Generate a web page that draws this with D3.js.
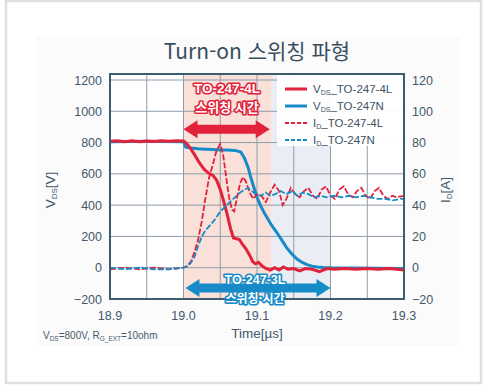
<!DOCTYPE html>
<html lang="ko">
<head>
<meta charset="utf-8">
<title>Turn-on 스위칭 파형</title>
<script src="https://d3js.org/d3.v7.min.js"></script>
<style>
body { margin: 0; background: #fff; }
svg text { font-family: "Liberation Sans", Arial, sans-serif; }
svg text.kr { font-family: "Noto Sans CJK KR", "Noto Sans", sans-serif; }
.grid line { stroke: #8e9ca9; stroke-width: 1; }
.tick-lbl { fill: #42596b; font-size: 12.5px; }
</style>
</head>
<body>
<div id="chart"></div>
<script>
// axis ticks
var timeTicks = [18.9, 19.0, 19.1, 19.2, 19.3];
var timeGrid = [18.95, 19.0, 19.05, 19.1, 19.15, 19.2, 19.25];
var vdsTicks = [-200, 0, 200, 400, 600, 800, 1000, 1200];
var idTicks = [-20, 0, 20, 40, 60, 80, 100, 120];

// switching-time spans (µs)
var span4L = [19.0, 19.12];
var span3L = [19.0, 19.2];

// V_DS, TO-247-4L  [time µs, V]
var vds4L = [[18.900, 808], [18.910, 812], [18.920, 805], [18.930, 811], [18.940, 806], [18.950, 810],
  [18.960, 807], [18.970, 812], [18.980, 808], [18.990, 812], [19.000, 810], [19.004, 795], [19.010, 760],
  [19.016, 715], [19.022, 668], [19.028, 630], [19.034, 605], [19.040, 590], [19.045, 560], [19.050, 500],
  [19.055, 420], [19.060, 330], [19.064, 250], [19.068, 190], [19.072, 185], [19.076, 180], [19.080, 150],
  [19.085, 120], [19.090, 80], [19.094, 40], [19.098, 25], [19.102, 35], [19.106, 15], [19.112, -5],
  [19.118, -15], [19.124, 0], [19.130, -15], [19.136, 5], [19.142, -10], [19.150, -5], [19.158, -20],
  [19.166, -5], [19.175, -10], [19.185, -25], [19.195, -5], [19.205, -10], [19.220, -5], [19.235, -10],
  [19.250, -5], [19.265, -10], [19.280, -5], [19.300, -15]];

// V_DS, TO-247N
var vdsN = [[18.900, 806], [18.950, 808], [19.000, 805], [19.003, 770], [19.010, 765], [19.020, 760],
  [19.030, 757], [19.040, 755], [19.050, 752], [19.060, 752], [19.070, 750], [19.078, 740], [19.083, 700],
  [19.088, 640], [19.092, 570], [19.096, 510], [19.100, 450], [19.105, 395], [19.110, 350], [19.115, 310],
  [19.120, 270], [19.127, 225], [19.134, 175], [19.140, 130], [19.147, 90], [19.154, 57], [19.161, 35],
  [19.168, 20], [19.175, 10], [19.182, 5], [19.190, 2], [19.200, 0], [19.300, -5]];

// I_D, TO-247-4L  [time µs, A]
var id4L = [[18.90, -1], [18.92, 0], [18.94, -1], [18.96, 0], [18.98, -1], [19.00, 0], [19.005, 1],
  [19.010, 4], [19.015, 10], [19.020, 18], [19.025, 30], [19.030, 45], [19.035, 58], [19.040, 66],
  [19.045, 75], [19.050, 79], [19.054, 72], [19.058, 58], [19.062, 45], [19.066, 37], [19.069, 36],
  [19.073, 45], [19.077, 54], [19.081, 58], [19.085, 55], [19.090, 48], [19.095, 44], [19.100, 47],
  [19.106, 46], [19.112, 42], [19.118, 48], [19.124, 53], [19.130, 49], [19.135, 40], [19.140, 44],
  [19.146, 51], [19.152, 47], [19.158, 45], [19.164, 49], [19.170, 51], [19.176, 46], [19.182, 44],
  [19.188, 50], [19.194, 52], [19.200, 46], [19.206, 44], [19.212, 50], [19.218, 52], [19.224, 47],
  [19.230, 45], [19.236, 49], [19.242, 51], [19.248, 46], [19.254, 44], [19.260, 49], [19.266, 51],
  [19.272, 46], [19.278, 44], [19.284, 46], [19.290, 45], [19.300, 46]];

// I_D, TO-247N
var idN = [[18.90, 0], [18.92, -1], [18.94, 0], [18.96, -1], [18.98, -1], [19.00, 0], [19.005, 1],
  [19.010, 3], [19.015, 7], [19.020, 14], [19.025, 20], [19.030, 24], [19.036, 27], [19.043, 31],
  [19.050, 36], [19.057, 39], [19.063, 42], [19.070, 45], [19.077, 48], [19.083, 50], [19.088, 51],
  [19.093, 49], [19.098, 47], [19.105, 46], [19.112, 48], [19.118, 46], [19.125, 47], [19.132, 49],
  [19.140, 47], [19.148, 49], [19.155, 46], [19.162, 48], [19.170, 47], [19.178, 45], [19.186, 46],
  [19.195, 45], [19.205, 46], [19.215, 45], [19.225, 46], [19.235, 45], [19.245, 46], [19.255, 45],
  [19.265, 44], [19.275, 44], [19.285, 43], [19.295, 44], [19.300, 44]];

var legendNames = [["V", "DS", "_TO-247-4L"], ["V", "DS", "_TO-247N"], ["I", "D", "_TO-247-4L"], ["I", "D", "_TO-247N"]];

var w = 483, h = 385;
var red = "#e1223a", blue = "#178bc8";

var svg = d3.select("#chart").append("svg").attr("width", w).attr("height", h);

// card frame
svg.append("rect").attr("x", 6).attr("y", 1).attr("width", 475).attr("height", 382)
  .attr("fill", "#fff").attr("stroke", "#e2e0db").attr("stroke-width", 2.5);
svg.append("rect").attr("x", 36).attr("y", 37).attr("width", 424).attr("height", 309).attr("fill", "#fbfbfb");

var x = d3.scaleLinear().domain([18.9, 19.3]).range([110, 404]);
var y = d3.scaleLinear().domain([-200, 1200]).range([299, 80]);
var yI = d3.scaleLinear().domain([-20, 120]).range([299, 80]);
var plotTop = 74;
var plotH = y(-200) - plotTop;

// plot background + shaded spans
svg.append("rect").attr("x", x(18.9)).attr("y", plotTop).attr("width", x(19.3) - x(18.9)).attr("height", plotH).attr("fill", "#fff");
svg.append("rect").attr("x", x(span4L[0])).attr("y", plotTop).attr("width", x(span4L[1]) - x(span4L[0]))
  .attr("height", plotH).attr("fill", "#f9e0d8");
svg.append("rect").attr("x", x(span4L[1])).attr("y", plotTop).attr("width", x(span3L[1]) - x(span4L[1]))
  .attr("height", plotH).attr("fill", "#eaedf4");

// grid
var grid = svg.append("g").attr("class", "grid");
grid.selectAll("line.v").data(timeGrid).enter().append("line")
  .attr("x1", d => x(d)).attr("x2", d => x(d)).attr("y1", plotTop).attr("y2", y(-200));
grid.selectAll("line.h").data(vdsTicks).enter().append("line")
  .attr("x1", x(18.9)).attr("x2", x(19.3)).attr("y1", d => y(d)).attr("y2", d => y(d));

// legend box (covers grid)
svg.append("rect").attr("x", 277).attr("y", plotTop).attr("width", x(19.3) - 277).attr("height", 72)
  .attr("fill", "#fff").attr("opacity", 0.95);

// series
var line = d3.line().x(d => x(d[0])).y(d => y(d[1]));
var lineI = d3.line().x(d => x(d[0])).y(d => yI(d[1]));
svg.append("path").attr("d", line(vdsN)).attr("fill", "none").attr("stroke", blue).attr("stroke-width", 3);
svg.append("path").attr("d", line(vds4L)).attr("fill", "none").attr("stroke", red).attr("stroke-width", 3);
svg.append("path").attr("d", lineI(id4L)).attr("fill", "none").attr("stroke", red).attr("stroke-width", 1.8).attr("stroke-dasharray", "6,2");
svg.append("path").attr("d", lineI(idN)).attr("fill", "none").attr("stroke", blue).attr("stroke-width", 1.8).attr("stroke-dasharray", "6,2");

// frame
svg.append("rect").attr("x", x(18.9)).attr("y", plotTop).attr("width", x(19.3) - x(18.9)).attr("height", plotH)
  .attr("fill", "none").attr("stroke", "#3b5d6e").attr("stroke-width", 2);

// double arrows
function dblArrow(x0, x1, yc, color) {
  var hl = 14, hh = 9, sh = 4.5;
  var pts = [[x0, yc], [x0 + hl, yc - hh], [x0 + hl, yc - sh], [x1 - hl, yc - sh], [x1 - hl, yc - hh], [x1, yc],
    [x1 - hl, yc + hh], [x1 - hl, yc + sh], [x0 + hl, yc + sh], [x0 + hl, yc + hh]];
  svg.append("polygon").attr("points", pts.map(p => p.join(",")).join(" ")).attr("fill", color);
}
dblArrow(x(span4L[0]), x(span4L[1]) - 2, y(885), red);
dblArrow(x(span3L[0]) + 2, x(span3L[1]), y(-130), blue);

function outlined(txt, cx, cy, color, cls, fs) {
  svg.append("text").attr("class", cls || null).attr("x", cx).attr("y", cy).attr("text-anchor", "middle")
    .attr("font-size", fs).attr("font-weight", "bold").attr("fill", "#fff")
    .attr("stroke", color).attr("stroke-width", 3.2).attr("paint-order", "stroke").attr("stroke-linejoin", "round")
    .text(txt);
}
outlined("TO-247-4L", 227, 93, red, null, 13.5);
outlined("스위칭 시간", 227, 112, red, "kr", 13);
outlined("TO-247-3L", 255, 284, blue, null, 12.5);
outlined("스위칭·시간", 255, 303, blue, "kr", 12);

// legend
var lg = svg.append("g");
legendNames.forEach(function (n, i) {
  var yy = 89 + i * 17;
  lg.append("line").attr("x1", 285).attr("x2", 307).attr("y1", yy).attr("y2", yy)
    .attr("stroke", i % 2 ? blue : red).attr("stroke-width", i < 2 ? 3 : 1.8)
    .attr("stroke-dasharray", i < 2 ? null : "4,2");
  var t = lg.append("text").attr("x", 313).attr("y", yy + 4).attr("font-size", 11.5).attr("fill", "#3e5264");
  t.append("tspan").text(n[0]);
  t.append("tspan").attr("font-size", 7).attr("dy", 2).text(n[1]);
  t.append("tspan").attr("dy", -2).text(n[2]);
});

// tick labels
function fmt(v) { return v < 0 ? "\u2212" + Math.abs(v) : String(v); }
svg.selectAll("text.yl").data(vdsTicks).enter().append("text").attr("class", "tick-lbl")
  .attr("x", 102).attr("y", d => y(d) + 4.5).attr("text-anchor", "end").text(fmt);
svg.selectAll("text.yr").data(idTicks).enter().append("text").attr("class", "tick-lbl")
  .attr("x", 412).attr("y", d => yI(d) + 4.5).text(fmt);
svg.selectAll("text.xl").data(timeTicks).enter().append("text").attr("class", "tick-lbl")
  .attr("x", d => x(d)).attr("y", 320).attr("text-anchor", "middle").text(d => d.toFixed(1));

// axis titles
svg.append("text").attr("x", 257).attr("y", 338).attr("text-anchor", "middle").attr("font-size", 13.5)
  .attr("fill", "#42596b").text("Time[µs]");
var yt = svg.append("text").attr("transform", "translate(55,190) rotate(-90)").attr("text-anchor", "middle")
  .attr("font-size", 13.5).attr("fill", "#42596b");
yt.append("tspan").text("V");
yt.append("tspan").attr("font-size", 8).attr("dy", 2).text("DS");
yt.append("tspan").attr("dy", -2).text("[V]");
var yr = svg.append("text").attr("transform", "translate(450,190) rotate(-90)").attr("text-anchor", "middle")
  .attr("font-size", 13.5).attr("fill", "#42596b");
yr.append("tspan").text("I");
yr.append("tspan").attr("font-size", 8).attr("dy", 2).text("D");
yr.append("tspan").attr("dy", -2).text("[A]");

// title
svg.append("text").attr("class", "kr").attr("x", 257).attr("y", 59).attr("text-anchor", "middle")
  .attr("font-size", 21).attr("fill", "#3a4d5c").text("Turn-on 스위칭 파형");

// condition note
var note = svg.append("text").attr("x", 43).attr("y", 339).attr("font-size", 10).attr("fill", "#4a5a6a");
note.append("tspan").text("V");
note.append("tspan").attr("font-size", 6.5).attr("dy", 1.5).text("DS");
note.append("tspan").attr("dy", -1.5).text("=800V, R");
note.append("tspan").attr("font-size", 6.5).attr("dy", 1.5).text("G_EXT");
note.append("tspan").attr("dy", -1.5).text("=10ohm");
</script>
</body>
</html>
